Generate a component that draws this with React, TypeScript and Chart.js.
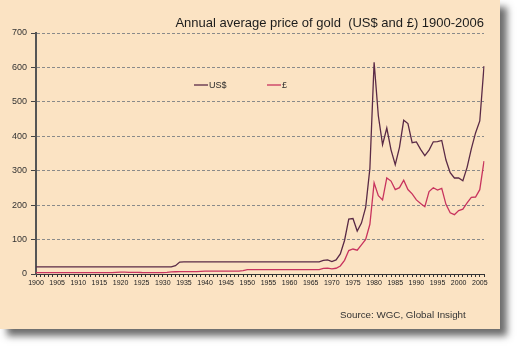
import React, { useEffect, useRef } from "react";
import { Chart, registerables } from "chart.js";

Chart.register(...registerables);

const years: string[] = Array.from({ length: 107 }, (_, i) => String(1900 + i));

const usd: number[] = [
  20.67, 20.67, 20.67, 20.67, 20.67, 20.67, 20.67, 20.67, 20.67, 20.67,
  20.67, 20.67, 20.67, 20.67, 20.67, 20.67, 20.67, 20.67, 20.67, 20.67,
  20.67, 20.67, 20.67, 20.67, 20.67, 20.67, 20.67, 20.67, 20.67, 20.67,
  20.67, 20.67, 20.67, 24.0, 34.7, 35.0, 35.0, 35.0, 35.0, 35.0,
  35.0, 35.0, 35.0, 35.0, 35.0, 35.0, 35.0, 35.0, 35.0, 35.0,
  35.0, 35.0, 35.0, 35.0, 35.0, 35.0, 35.0, 35.0, 35.0, 35.0,
  35.3, 35.5, 35.4, 35.4, 35.4, 35.4, 35.4, 35.5, 39.3, 41.1,
  36.0, 40.8, 58.2, 97.3, 159.3, 161.0, 124.8, 148.0, 193.2, 306.7,
  615.0, 459.6, 375.9, 424.0, 360.7, 317.3, 368.0, 446.5, 437.0, 381.4,
  383.5, 362.1, 343.7, 359.8, 384.0, 384.2, 387.8, 331.0, 294.2, 278.8,
  279.1, 271.0, 309.7, 363.4, 409.7, 444.5, 603.8,
];

const gbp: number[] = [
  4.25, 4.25, 4.25, 4.25, 4.25, 4.25, 4.25, 4.25, 4.25, 4.25,
  4.25, 4.25, 4.25, 4.25, 4.25, 4.25, 4.25, 4.25, 4.25, 4.79,
  5.47, 5.17, 4.67, 4.52, 4.7, 4.29, 4.25, 4.25, 4.25, 4.25,
  4.25, 4.87, 6.0, 6.6, 6.9, 7.1, 7.0, 7.0, 7.1, 7.7,
  8.4, 8.4, 8.4, 8.4, 8.4, 8.4, 8.6, 8.6, 8.6, 10.0,
  12.5, 12.5, 12.5, 12.5, 12.5, 12.5, 12.5, 12.5, 12.5, 12.5,
  12.6, 12.7, 12.6, 12.6, 12.6, 12.6, 12.6, 12.9, 16.3, 17.2,
  15.0, 16.7, 23.3, 39.6, 68.1, 72.6, 69.1, 84.8, 100.6, 144.4,
  264.6, 227.3, 215.1, 279.1, 269.9, 245.0, 250.8, 272.5, 245.3, 232.6,
  215.2, 205.0, 195.6, 239.6, 250.5, 243.6, 248.5, 202.2, 177.6, 172.4,
  184.4, 188.4, 206.3, 222.3, 223.6, 244.9, 328.0,
];

const seriesNames = ["US$", "£"];
const seriesColors = ["#5a2a46", "#c8345e"];
const yTicks = [0, 100, 200, 300, 400, 500, 600, 700];
const titleText = "Annual average price of gold  (US$ and £) 1900-2006";
const sourceText = "Source: WGC, Global Insight";

const FONT = "'Liberation Sans', Arial, sans-serif";

const textPlugin = {
  id: "textPlugin",
  afterDraw(chart: any) {
    const ctx = chart.ctx as CanvasRenderingContext2D;
    const area = chart.chartArea;
    ctx.save();
    // title
    ctx.font = `13px ${FONT}`;
    ctx.fillStyle = "#1c1c1c";
    ctx.textAlign = "right";
    ctx.textBaseline = "middle";
    ctx.fillText(titleText, area.right, 23);
    // legend
    const legendY = 85;
    const items = [
      { x: 194, name: seriesNames[0], color: seriesColors[0] },
      { x: 267, name: seriesNames[1], color: seriesColors[1] },
    ];
    ctx.font = `9px ${FONT}`;
    ctx.textAlign = "left";
    items.forEach((it) => {
      ctx.strokeStyle = it.color;
      ctx.lineWidth = 1.3;
      ctx.beginPath();
      ctx.moveTo(it.x, legendY);
      ctx.lineTo(it.x + 14, legendY);
      ctx.stroke();
      ctx.fillStyle = "#2a2a2a";
      ctx.fillText(it.name, it.x + 15, legendY + 0.5);
    });
    // source
    ctx.font = `9.8px ${FONT}`;
    ctx.fillStyle = "#333";
    ctx.fillText(sourceText, 340, 315);
    ctx.restore();
  },
};

export default function App() {
  const canvasRef = useRef<HTMLCanvasElement | null>(null);

  useEffect(() => {
    if (!canvasRef.current) return;
    const chart = new Chart(canvasRef.current, {
      type: "line",
      data: {
        labels: years,
        datasets: [
          {
            label: seriesNames[0],
            data: usd,
            borderColor: seriesColors[0],
            backgroundColor: seriesColors[0],
            borderWidth: 1.3,
            pointRadius: 0,
            tension: 0,
          },
          {
            label: seriesNames[1],
            data: gbp,
            borderColor: seriesColors[1],
            backgroundColor: seriesColors[1],
            borderWidth: 1.3,
            pointRadius: 0,
            tension: 0,
          },
        ],
      },
      options: {
        responsive: false,
        animation: false,
        layout: { padding: { top: 33, right: 36, left: 0, bottom: 0 } },
        plugins: {
          legend: { display: false },
          title: { display: false },
          tooltip: { enabled: false },
        },
        scales: {
          x: {
            type: "category",
            offset: false,
            afterFit: (s: any) => {
              s.height = 76;
            },
            grid: {
              drawOnChartArea: false,
              drawTicks: true,
              tickLength: 3,
              tickColor: "#333",
              lineWidth: 1,
            },
            border: { display: true, color: "#333", width: 1 },
            ticks: {
              autoSkip: false,
              maxRotation: 0,
              minRotation: 0,
              padding: 2,
              color: "#222",
              font: { family: FONT, size: 7 },
              callback: function (this: any, _v: any, i: number) {
                const y = years[i];
                return Number(y) % 5 === 0 ? y : "";
              },
            },
          },
          y: {
            min: 0,
            max: 700,
            afterFit: (s: any) => {
              s.width = 36;
            },
            afterBuildTicks: (s: any) => {
              s.ticks = yTicks.map((v) => ({ value: v }));
            },
            grid: {
              color: "#8a8a8a",
              lineWidth: 1,
              drawTicks: true,
              tickLength: 5,
              tickColor: "#444",
              tickBorderDash: [],
            },
            border: { display: true, color: "#555", width: 2, dash: [3, 2] },
            ticks: {
              padding: 4,
              color: "#333",
              font: { family: FONT, size: 9 },
            },
          },
        },
      },
      plugins: [textPlugin],
    });
    return () => chart.destroy();
  }, []);

  return (
    <div
      style={{
        position: "fixed",
        left: 0,
        top: 0,
        width: 520,
        height: 350,
        background: "#ffffff",
        overflow: "hidden",
      }}
    >
      <div
        style={{
          position: "absolute",
          left: 0,
          top: 0,
          width: 500,
          height: 329,
          background: "#fbe3c3",
          boxShadow: "7px 7px 7px rgba(60,60,60,0.75)",
        }}
      />
      <canvas
        ref={canvasRef}
        width={520}
        height={350}
        style={{ position: "absolute", left: 0, top: 0, width: 520, height: 350 }}
      />
    </div>
  );
}
